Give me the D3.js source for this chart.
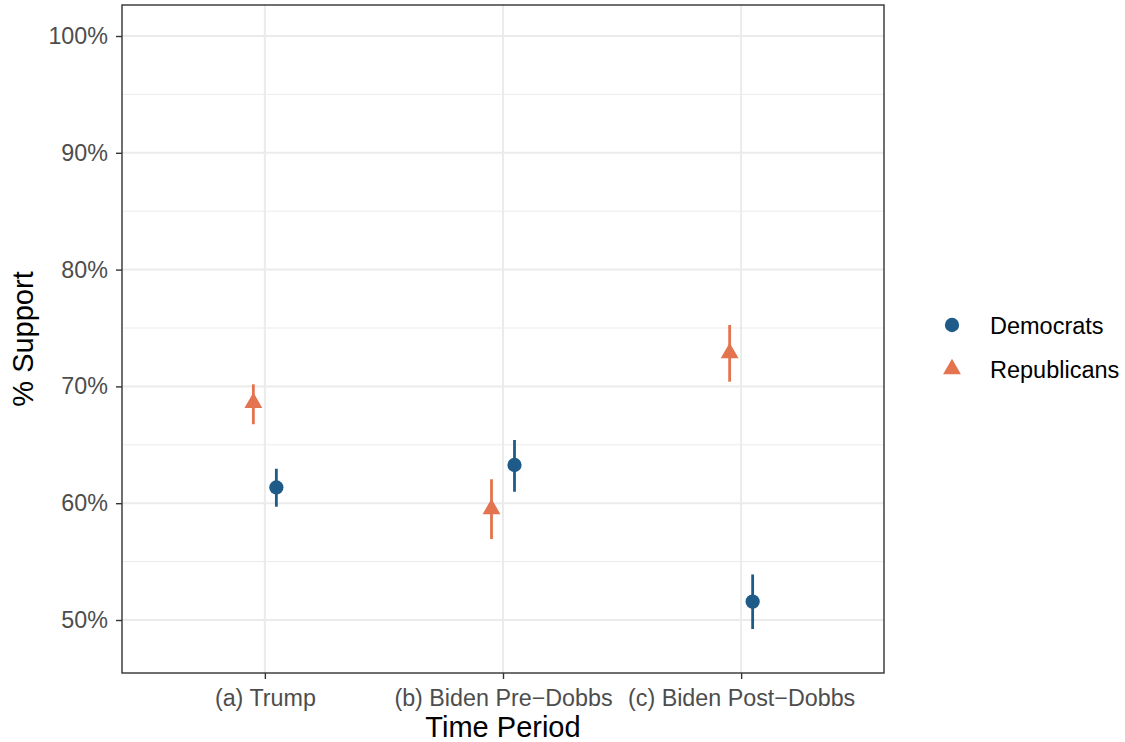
<!DOCTYPE html>
<html>
<head>
<meta charset="utf-8">
<script src="https://cdn.jsdelivr.net/npm/d3@7"></script>
<style>
  body { margin: 0; background: #fff; }
  text { font-family: "Liberation Sans", Arial, Helvetica, sans-serif; }
</style>
</head>
<body>
<div id="vis-container"></div>
<script>
// chart values
const periods = ["(a) Trump", "(b) Biden Pre\u2212Dobbs", "(c) Biden Post\u2212Dobbs"];
const parties = ["Republicans", "Democrats"];
const demEst = [61.35, 63.27, 51.57];
const demLow = [59.7, 60.98, 49.23];
const demHigh = [62.95, 65.41, 53.9];
const repEst = [68.6, 59.5, 72.85];
const repLow = [66.76, 56.93, 70.4];
const repHigh = [70.18, 62.05, 75.26];
const yTicks = [50, 60, 70, 80, 90, 100];
const yMinor = [55, 65, 75, 85, 95];

const width = 1125;
const height = 742;
const panel = { left: 122, right: 884, top: 5, bottom: 673 };
const colors = { Democrats: "#1f5b89", Republicans: "#e3744f" };
const tickFont = "23.3px";
const titleFont = "29px";

const svg = d3.select("#vis-container")
  .append("svg")
  .attr("width", width)
  .attr("height", height);

// build rows
let rows = [];
periods.forEach((p, i) => {
  rows.push({ period: p, party: "Republicans", est: repEst[i], lo: repLow[i], hi: repHigh[i] });
  rows.push({ period: p, party: "Democrats", est: demEst[i], lo: demLow[i], hi: demHigh[i] });
});

// discrete x with ggplot-style 0.6 expansion
const xScale = d3.scalePoint()
  .domain(periods)
  .range([panel.left + 0.6 * 238.1, panel.right - 0.6 * 238.1]);

const dodge = d3.scalePoint()
  .domain(parties)
  .range([-11.5, 11.5]);

const yScale = d3.scaleLinear()
  .domain([50, 100])
  .range([620, 36]);

// panel background
svg.append("rect")
  .attr("x", panel.left).attr("y", panel.top)
  .attr("width", panel.right - panel.left)
  .attr("height", panel.bottom - panel.top)
  .attr("fill", "#fff");

// minor grid
svg.append("g").selectAll("line")
  .data(yMinor)
  .join("line")
  .attr("x1", panel.left).attr("x2", panel.right)
  .attr("y1", d => yScale(d)).attr("y2", d => yScale(d))
  .attr("stroke", "#ebebeb").attr("stroke-width", 1);

// major grid
svg.append("g").selectAll("line")
  .data(yTicks)
  .join("line")
  .attr("x1", panel.left).attr("x2", panel.right)
  .attr("y1", d => yScale(d)).attr("y2", d => yScale(d))
  .attr("stroke", "#ebebeb").attr("stroke-width", 2);

svg.append("g").selectAll("line")
  .data(periods)
  .join("line")
  .attr("x1", d => xScale(d)).attr("x2", d => xScale(d))
  .attr("y1", panel.top).attr("y2", panel.bottom)
  .attr("stroke", "#ebebeb").attr("stroke-width", 2);

// error bars
svg.append("g").selectAll("line")
  .data(rows)
  .join("line")
  .attr("x1", d => xScale(d.period) + dodge(d.party))
  .attr("x2", d => xScale(d.period) + dodge(d.party))
  .attr("y1", d => yScale(d.lo))
  .attr("y2", d => yScale(d.hi))
  .attr("stroke", d => colors[d.party])
  .attr("stroke-width", 2.8);

// points
const circleSym = d3.symbol().type(d3.symbolCircle).size(160);
const triSym = d3.symbol().type(d3.symbolTriangle).size(138);

svg.append("g").selectAll("path")
  .data(rows)
  .join("path")
  .attr("transform", d => `translate(${xScale(d.period) + dodge(d.party)},${yScale(d.est)})`)
  .attr("d", d => d.party === "Democrats" ? circleSym() : triSym())
  .attr("fill", d => colors[d.party]);

// panel border
svg.append("rect")
  .attr("x", panel.left).attr("y", panel.top)
  .attr("width", panel.right - panel.left)
  .attr("height", panel.bottom - panel.top)
  .attr("fill", "none")
  .attr("stroke", "#333333")
  .attr("stroke-width", 1.4);

// y axis
const yAxis = svg.append("g")
  .attr("transform", `translate(${panel.left},0)`)
  .call(d3.axisLeft(yScale).tickValues(yTicks).tickFormat(d => d + "%").tickSize(6).tickPadding(8));
yAxis.select(".domain").remove();
yAxis.selectAll(".tick line").attr("stroke", "#333333").attr("stroke-width", 1.4);
yAxis.selectAll(".tick text")
  .attr("fill", "#4d4d4d")
  .attr("font-size", tickFont)
  .attr("font-family", "Liberation Sans, Arial, sans-serif");

// x axis
const xAxis = svg.append("g")
  .attr("transform", `translate(0,${panel.bottom})`)
  .call(d3.axisBottom(xScale).tickSize(6).tickPadding(10));
xAxis.select(".domain").remove();
xAxis.selectAll(".tick line").attr("stroke", "#333333").attr("stroke-width", 1.4);
xAxis.selectAll(".tick text")
  .attr("fill", "#4d4d4d")
  .attr("font-size", tickFont)
  .attr("font-family", "Liberation Sans, Arial, sans-serif");

// axis titles
svg.append("text")
  .attr("x", (panel.left + panel.right) / 2)
  .attr("y", 737)
  .attr("text-anchor", "middle")
  .attr("font-size", titleFont)
  .attr("fill", "#000")
  .text("Time Period");

svg.append("text")
  .attr("transform", `translate(33,${(panel.top + panel.bottom) / 2}) rotate(-90)`)
  .attr("text-anchor", "middle")
  .attr("font-size", titleFont)
  .attr("fill", "#000")
  .text("% Support");

// legend
const legendItems = ["Democrats", "Republicans"];
const legend = svg.append("g").attr("transform", "translate(952,325)");
legend.selectAll("path")
  .data(legendItems)
  .join("path")
  .attr("transform", (d, i) => `translate(0,${i * 44})`)
  .attr("d", d => d === "Democrats" ? circleSym() : triSym())
  .attr("fill", d => colors[d]);
legend.selectAll("text")
  .data(legendItems)
  .join("text")
  .attr("x", 38)
  .attr("y", (d, i) => i * 44 + 8.5)
  .attr("font-size", "23.5px")
  .attr("fill", "#000")
  .text(d => d);
</script>
</body>
</html>
